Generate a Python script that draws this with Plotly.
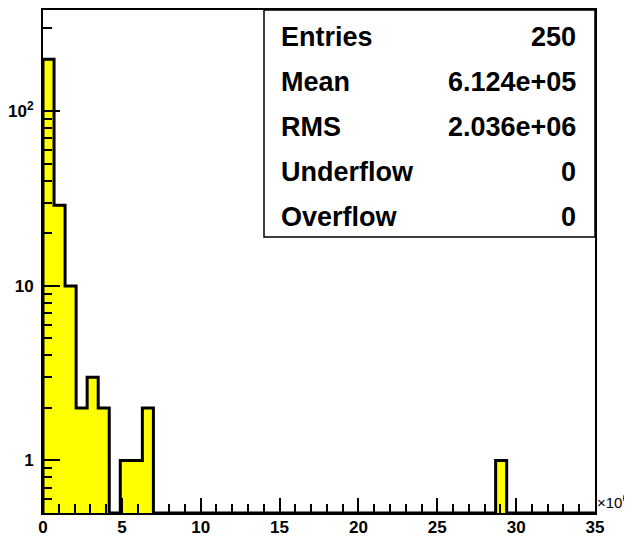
import plotly.graph_objects as go
import math

# ---- data ----
bin_width = 0.7          # in units of 1e6
n_bins = 50
x_max = 35
nonzero_bins = [0, 1, 2, 3, 4, 5, 7, 8, 9, 41]
nonzero_counts = [199, 29, 10, 2, 3, 2, 1, 1, 2, 1]

stat_labels = ["Entries", "Mean", "RMS", "Underflow", "Overflow"]
stat_values = ["250", "6.124e+05", "2.036e+06", "0", "0"]

y_tickvals = [1, 10, 100]
y_ticktext = ["1", "10", "10<sup>2</sup>"]
x_tickvals = [0, 5, 10, 15, 20, 25, 30, 35]

y_lo = math.log10(0.5)
y_hi = 2.581

counts = [0] * n_bins
for b, c in zip(nonzero_bins, nonzero_counts):
    counts[b] = c

# ---- layout geometry (window pixels; page body has an 8px margin) ----
OFF = 8
W, H = 632 - OFF, 536 - OFF
PL, PR, PT, PB = 43, 595, 10, 513   # plot area in window pixels
L, R, T, B = PL - OFF, 632 - PR, PT - OFF, 536 - PB
pw, ph = PR - PL, PB - PT


def px2x(px):
    return (px - PL) / pw


def px2y(py):
    return (PB - py) / ph


fig = go.Figure()

# yellow fill for non-empty bins
centers = [(b + 0.5) * bin_width for b in nonzero_bins]
fig.add_trace(go.Bar(
    x=centers, y=nonzero_counts, width=bin_width,
    marker=dict(color="#FFFF00", line=dict(width=0)),
    hoverinfo="skip", showlegend=False,
))

# step outline
floor = 10 ** y_lo
ox = [0.0] + [i * bin_width for i in range(n_bins)] + [x_max]
oy = [floor] + [c if c > 0 else floor for c in counts] + [floor]
fig.add_trace(go.Scatter(
    x=ox, y=oy, mode="lines", line=dict(color="black", width=3, shape="hv"),
    hoverinfo="skip", showlegend=False, cliponaxis=False,
))

minor_y = []
for dec in [0.1, 1, 10, 100]:
    for k in range(2, 10):
        v = dec * k
        if 0.5 <= v <= 10 ** y_hi:
            minor_y.append(v)

# invisible trace to activate the minor-tick y axis
fig.add_trace(go.Scatter(x=[None], y=[None], yaxis="y2", showlegend=False, hoverinfo="skip"))

fig.update_layout(
    width=W, height=H,
    margin=dict(l=L, r=R, t=T, b=B, pad=0),
    paper_bgcolor="white", plot_bgcolor="white",
    bargap=0,
    xaxis=dict(
        range=[0, x_max], showgrid=False, zeroline=False, automargin=False,
        showline=True, linecolor="black", linewidth=2, mirror=True,
        ticks="inside", ticklen=15, tickwidth=2, tickcolor="black",
        tickmode="array", tickvals=x_tickvals,
        ticktext=["<b>%d</b>" % v for v in x_tickvals],
        tickfont=dict(family="Liberation Sans", size=17, color="black"),
        ticklabelstandoff=-2,
        minor=dict(ticks="inside", ticklen=9, tickwidth=2, tickcolor="black",
                   dtick=1, tick0=0, showgrid=False),
    ),
    yaxis=dict(
        type="log", range=[y_lo, y_hi], showgrid=False, zeroline=False, automargin=False,
        showline=True, linecolor="black", linewidth=2, mirror=True,
        ticks="inside", ticklen=17, tickwidth=2, tickcolor="black",
        tickmode="array", tickvals=y_tickvals,
        ticktext=["<b>%s</b>" % t for t in y_ticktext],
        tickfont=dict(family="Liberation Sans", size=17, color="black"),
        ticklabelstandoff=4,
    ),
    yaxis2=dict(
        type="log", range=[y_lo, y_hi], overlaying="y", side="left",
        showgrid=False, zeroline=False, automargin=False, showline=False,
        ticks="inside", ticklen=9, tickwidth=2, tickcolor="black",
        tickmode="array", tickvals=minor_y, showticklabels=False,
    ),
)

# stats box
fig.add_shape(type="rect", xref="paper", yref="paper",
              x0=px2x(264), x1=1, y0=px2y(237), y1=1,
              line=dict(color="black", width=1.5), fillcolor="white", layer="above")

row_px = [37, 82, 127, 172, 217]
for lab, val, py in zip(stat_labels, stat_values, row_px):
    fig.add_annotation(xref="paper", yref="paper", x=px2x(279), y=px2y(py),
                       text="<b>%s</b>" % lab, showarrow=False, xanchor="left", yanchor="middle",
                       font=dict(family="Liberation Sans", size=27, color="black"))
    fig.add_annotation(xref="paper", yref="paper", x=px2x(578), y=px2y(py),
                       text="<b>%s</b>" % val, showarrow=False, xanchor="right", yanchor="middle",
                       font=dict(family="Liberation Sans", size=27, color="black"))

# exponent label
fig.add_annotation(xref="paper", yref="paper", x=1, y=px2y(501), xshift=0,
                   text="×10<sup>6</sup>", showarrow=False, xanchor="left", yanchor="middle",
                   font=dict(family="Liberation Sans", size=15, color="black"))

fig.write_html("out.html")
